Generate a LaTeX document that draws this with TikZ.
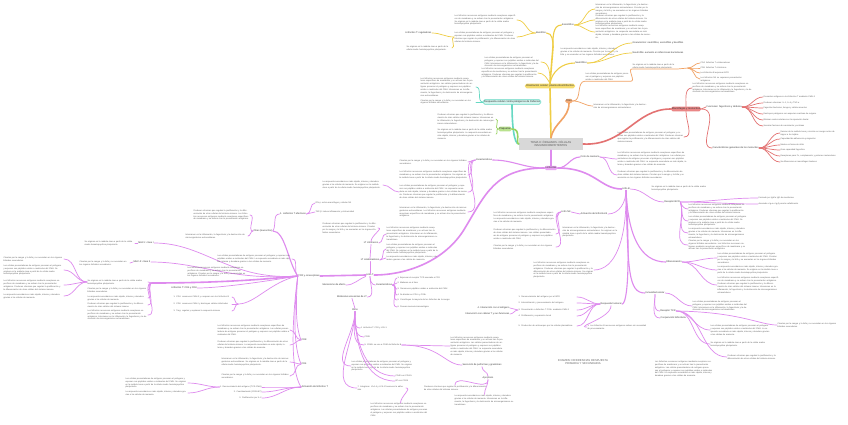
\documentclass[tikz,border=0pt]{standalone}
\usepackage{fontspec}
\setmainfont{Liberation Sans}
\definecolor{mgc}{HTML}{DE8BEE}
\definecolor{mgf}{HTML}{E9A5F3}
\definecolor{yec}{HTML}{EFCD45}
\definecolor{yef}{HTML}{F5DC6E}
\definecolor{orc}{HTML}{F1A264}
\definecolor{orf}{HTML}{F4AC78}
\definecolor{rdc}{HTML}{E37272}
\definecolor{rdf}{HTML}{EA8686}
\definecolor{tec}{HTML}{66D8C3}
\definecolor{grc}{HTML}{98D35E}
\definecolor{grf}{HTML}{B9E28E}
\definecolor{cef}{HTML}{D8D8D8}
\def\txA{Los linfocitos reconocen antígenos mediante receptores específicos de membrana y se activan tras la presentación antigénica.}
\def\txB{Las células presentadoras de antígeno procesan el patógeno y exponen sus péptidos unidos a moléculas del CMH.}
\def\txC{La respuesta secundaria es más rápida, intensa y duradera gracias a las células de memoria.}
\def\txD{Producen citocinas que regulan la proliferación y la diferenciación de otras células del sistema inmune.}
\def\txE{Se originan en la médula ósea a partir de la célula madre hematopoyética pluripotente.}
\def\txF{Intervienen en la inflamación, la fagocitosis y la destrucción de microorganismos extracelulares.}
\def\txG{Circulan por la sangre y la linfa y se acumulan en los órganos linfoides secundarios.}
\tikzset{
  txt/.style={font=\fontsize{2.1}{2.9}\selectfont, text=black!62, inner sep=0.3pt, align=left},
  lab/.style={font=\fontsize{2.4}{3}\selectfont, text=black!78, inner sep=0.4pt},
  pill/.style={rounded corners=1.8pt, inner sep=1.1pt, font=\fontsize{2.6}{3}\selectfont, text=black!80},
  thk/.style={line width=1.6pt, line cap=round},
  mid/.style={line width=1.1pt, line cap=round},
  thn/.style={line width=0.7pt, line cap=round},
}
\begin{document}
\begin{tikzpicture}[x=1pt,y=-1pt]
\fill[white] (0,0) rectangle (848,424);
\useasboundingbox (0,0) rectangle (848,424);

% ---------- centre
\node[fill=cef, minimum width=64pt, minimum height=12pt, inner sep=1pt, align=center, font=\fontsize{2.8}{3.4}\selectfont, text=black!65] (c) at (551,144) {TEMA 8: ÓRGANOS. CÉLULAS\\INMUNOCOMPETENTES};

% ---------- yellow
\node[pill, fill=yef] (ye) at (550,86) {Orientación celular: plasmocitos/linfocitos};
\coordinate (yt) at (553,47);
\node[lab] (bas) at (541,33) {Basófilos};
\node[lab] (eos) at (568,25) {Eosinófilos};
\node[lab] (neu) at (581,63) {Neutrófilos};
\node[txt, text width=62pt, anchor=east] (yb1) at (517,20) {\txA\ \txE};
\node[txt, text width=62pt, anchor=east] (yb2) at (517,37) {\txB\ \txD};
\node[lab, anchor=east] (ylt) at (432,33) {Linfocitos T: reguladores};
\node[txt, text width=45pt, anchor=east] (yb3) at (452,48) {\txE};
\node[txt, text width=55pt, anchor=west] (ye1) at (595,9) {\txF\ \txG};
\node[txt, text width=55pt, anchor=west] (ye2) at (595,20) {\txD\ \txE};
\node[txt, text width=55pt, anchor=west] (ye3) at (595,32) {\txA\ \txC};
\node[lab, anchor=west] (gr1) at (632,43) {Granulocitos: neutrófilos, eosinófilos y basófilos};
\node[lab, anchor=west] (gr2) at (632,53) {Neutrofilia: aumento en infecciones bacterianas};
\node[txt, text width=58pt, anchor=west] (ynt) at (560,52) {\txC\ \txG};
\node[txt, text width=56pt, anchor=east] (yl1) at (541,62) {\txB\ \txF};
\node[txt, text width=56pt, anchor=east] (yl2) at (538,73) {\txA\ \txD};
\draw[yec, thk] (c.north) -- (ye.south);
\draw[yec, thk] (ye.north) -- (yt);
\draw[yec, mid] (yt) to[out=90,in=0] (bas.east);
\draw[yec, mid] (yt) to[out=90,in=180] (eos.west);
\draw[yec, mid] (ye.north) to[out=80,in=180] (neu.west);
\draw[yec, thn] (bas.west) to[out=180,in=0] (yb1.east);
\draw[yec, thn] (bas.west) to[out=180,in=0] (yb2.east);
\draw[yec, thn] (yb2.west) to[out=180,in=0] (ylt.east);
\draw[yec, thn] (yb2.west) to[out=180,in=0] (yb3.east);
\foreach \n in {ye1,ye2,ye3} \draw[yec, thn] (eos.east) to[out=0,in=180] (\n.west);
\foreach \n in {gr1,gr2} \draw[yec, thn] (neu.east) to[out=0,in=180] (\n.west);
\draw[yec, thn] (ye.north) to[out=90,in=0] (yl1.east);
\draw[yec, thn] (ye.north) to[out=120,in=0] (yl2.east);

% ---------- teal
\node[pill, fill=tec!30, draw=tec, line width=0.5pt] (te) at (512,102) {Respuesta celular contra patógenos de Defensa};
\node[txt, text width=55pt, anchor=east] (tt1) at (476,87) {\txA\ \txB\ \txF};
\node[txt, text width=55pt, anchor=east] (tt2) at (476,102) {\txG};
\draw[tec, thk] (c.west) .. controls (514,144) and (512,125) .. (te.south);
\draw[tec, thn] (te.west) to[out=180,in=0] (tt1.east);
\draw[tec, thn] (te.west) to[out=180,in=0] (tt2.east);

% ---------- green
\node[pill, fill=grf] (gn) at (505,129) {Plaquetas};
\node[txt, text width=58pt, anchor=east] (gt1) at (496,119) {\txD\ \txF};
\node[txt, text width=58pt, anchor=east] (gt2) at (496,134) {\txE\ \txC};
\draw[grc, thk] (c.west) .. controls (515,144) and (522,129) .. (gn.east);
\draw[grc, thn] (gn.west) to[out=180,in=0] (gt1.east);
\draw[grc, thn] (gn.west) to[out=180,in=0] (gt2.east);

% ---------- orange
\node[pill, fill=orf] (or) at (569,101) {Timo};
\node[txt, text width=45pt, anchor=west] (o1) at (585,77) {\txB};
\node[txt, text width=45pt, anchor=west] (o2) at (632,66) {\txE};
\coordinate (ob) at (688,68);
\node[txt, anchor=west] (oi1) at (700,63) {CD4: linfocitos T colaboradores};
\node[txt, anchor=west] (oi2) at (700,68) {CD8: linfocitos T citotóxicos};
\node[txt, anchor=west] (oi3) at (700,73) {Los linfocitos B expresan BCR};
\node[txt, text width=50pt, anchor=west] (oi4) at (700,79) {Los linfocitos NK no requieren presentación antigénica.};
\node[txt, text width=55pt, anchor=west] (o3) at (593,106) {\txF};
\draw[orc, thk] (c.north) to[out=80,in=-90] (or.south);
\draw[orc, thn] (or.east) to[out=0,in=180] (o1.south west) -- (o1.south east) to[out=0,in=180] (o2.south west) -- (o2.south east) to[out=0,in=180] (ob);
\foreach \n in {oi1,oi2,oi3,oi4} \draw[orc, thn] (ob) to[out=0,in=180] (\n.west);
\draw[orc, thn] (or.east) to[out=0,in=180] (o3.west);

% ---------- red
\node[pill, fill=rdf] (re) at (686,109) {Macrófagos y monocitos};
\node[txt, text width=60pt, anchor=west] (r1) at (692,88) {\txA\ \txF};
\node[txt, text width=66pt, anchor=east] (r2) at (684,137) {\txB\ \txD};
\node[lab, anchor=west] (rf) at (706,107) {Funciones: fagocitosis y defensa};
\node[txt, anchor=west] (rf1) at (763,97) {Presentan antígenos a los linfocitos T mediante CMH-II};
\node[txt, anchor=west] (rf2) at (763,103) {Producen citocinas: IL-1, IL-6 y TNF-α};
\node[txt, anchor=west] (rf3) at (763,108) {Fagocitan bacterias, hongos y células muertas};
\node[txt, anchor=west] (rf4) at (763,114) {Destruyen patógenos con especies reactivas de oxígeno};
\node[txt, anchor=west] (rf5) at (763,120) {Eliminan restos celulares en la reparación tisular};
\node[txt, anchor=west] (rf6) at (763,126) {Secretan factores de crecimiento y enzimas};
\node[lab, anchor=west] (rc) at (712,148) {Características generales de los monocitos};
\node[txt, text width=58pt, anchor=west] (rc1) at (780,133) {Derivan de la médula ósea y circulan en sangre antes de migrar a los tejidos};
\node[txt, anchor=west] (rc2) at (780,139) {Capacidad de adherencia y migración};
\node[txt, anchor=west] (rc3) at (780,145) {Núcleo en forma de riñón};
\node[txt, anchor=west] (rc4) at (780,150) {Gran capacidad fagocítica};
\node[txt, text width=58pt, anchor=west] (rc5) at (780,156) {Receptores para Fc, complemento y patrones moleculares};
\node[txt, anchor=west] (rc6) at (780,162) {Se diferencian en macrófagos tisulares};
\draw[rdc, thk] (c.east) .. controls (625,146) and (635,109) .. (re.west);
\draw[rdc, thn] (re.north) to[out=90,in=180] (r1.west);
\draw[rdc, thn] (re.south) to[out=-90,in=0] (r2.east);
\draw[rdc, thn] (re.east) -- (rf.west);
\foreach \n in {rf1,rf2,rf3,rf4,rf5,rf6} \draw[rdc, thn] (rf.east) to[out=0,in=180] (\n.west);
\draw[rdc, thn] (re.east) .. controls (722,109) and (696,148) .. (rc.west);
\foreach \n in {rc1,rc2,rc3,rc4,rc5,rc6} \draw[rdc, thn] (rc.east) to[out=0,in=180] (\n.west);

% ---------- magenta, right part
\node[pill, fill=mgf] (mg) at (551,168) {Linfocitos};
\draw[mgc, thk] (c.south) -- (mg.north);
\node[lab] (cm) at (590,157) {Ciclo de memoria};
\node[txt, text width=70pt, anchor=west] (cm1) at (617,159) {\txA\ \txB\ \txC};
\node[txt, text width=70pt, anchor=west] (cm2) at (617,175) {\txD\ \txG};
\draw[mgc, mid] (mg.east) to[out=0,in=180] (cm.west);
\draw[mgc, thn] (cm.east) to[out=0,in=180] (cm1.west);
\draw[mgc, thn] (cm.east) to[out=0,in=180] (cm2.west);
\node[lab] (lb) at (626,189) {Linfo B};
\draw[mgc, thk] (mg.east) .. controls (595,168) and (600,189) .. (lb.west);
\node[txt, text width=62pt, anchor=west] (lb1) at (651,188) {\txE};
\node[lab] (rb) at (672,202) {Receptor BCR};
\draw[mgc, thn] (lb.east) to[out=0,in=180] (rb.west);
\node[txt, anchor=west] (lbi1) at (758,198) {Formado por IgM e IgD de membrana};
\node[txt, anchor=west] (lbi2) at (758,204) {Asociado a Ig-α e Ig-β para la señalización};
\draw[mgc, thn] (rb.east) to[out=0,in=180] (lbi1.west);
\draw[mgc, thn] (rb.east) to[out=0,in=180] (lbi2.west);
\node[txt, text width=58pt, anchor=west] (rbi1) at (688,209) {\txA\ \txD};
\node[txt, text width=58pt, anchor=west] (rbi2) at (688,221) {\txB\ \txE};
\node[txt, text width=58pt, anchor=west] (rbi3) at (688,233) {\txC\ \txF};
\node[txt, text width=58pt, anchor=west] (rbi4) at (688,245) {\txG\ \txA};
\foreach \n in {rbi1,rbi2,rbi3,rbi4} \draw[mgc, thn] (rb.east) to[out=-70,in=180] (\n.west);
\node[lab] (alb) at (594,214) {Activación de linfocitos B};
\draw[mgc, thn] (lb.south) to[out=-90,in=0] (alb.east);
\node[lab] (nk) at (566,212) {Linfo NK};
\draw[mgc, thn] (alb.west) -- (nk.east);
\node[txt, text width=62pt, anchor=east] (nk1) at (556,217) {\txA\ \txC};
\node[txt, text width=62pt, anchor=east] (nk2) at (556,234) {\txD\ \txB};
\node[txt, text width=62pt, anchor=east] (nk3) at (556,247) {\txG};
\foreach \n in {nk1,nk2,nk3} \draw[mgc, thn] (nk.west) to[out=180,in=0] (\n.east);
\node[txt, text width=56pt, anchor=west] (nkr) at (562,232) {\txF\ \txE};
\node[lab] (dif) at (674,262) {Diferenciación};
\draw[mgc, mid] (lb.south) .. controls (628,235) and (640,262) .. (dif.west);
\node[txt, text width=62pt, anchor=west] (dif1) at (717,258) {\txB\ \txG};
\node[txt, text width=62pt, anchor=west] (dif2) at (717,270) {\txC\ \txE};
\node[txt, text width=62pt, anchor=west] (dif3) at (717,285) {\txA\ \txD\ \txF};
\foreach \n in {dif1,dif2,dif3} \draw[mgc, thn] (dif.east) to[out=0,in=180] (\n.west);
\node[txt, text width=60pt, anchor=east] (lbt) at (594,270) {\txA\ \txD\ \txE};
\draw[mgc, thn] (lb.south) .. controls (627,240) and (615,270) .. (lbt.east);
\node[lab] (inm) at (655,293) {Inmunidad celular};
\draw[mgc, mid] (lb.south) .. controls (628,270) and (628,293) .. (inm.west);
\node[txt, text width=56pt, anchor=west] (im1) at (692,306) {\txB\ \txF};
\draw[mgc, thn] (inm.east) to[out=0,in=180] (im1.west);
\node[lab] (rec) at (668,311) {Receptor TCR};
\node[lab, anchor=west] (cul) at (660,318) {Cooperación linfocitaria};
\draw[mgc, thn] (inm.south) to[out=-90,in=180] (rec.west);
\draw[mgc, thn] (inm.south) to[out=-90,in=180] (cul.west);
\node[txt, text width=62pt, anchor=west] (ci1) at (710,330) {\txB\ \txC};
\node[txt, text width=60pt, anchor=west] (cf) at (777,325) {\txG};
\node[txt, text width=66pt, anchor=west] (ci2) at (710,344) {\txE};
\node[txt, text width=50pt, anchor=west] (ci3) at (727,357) {\txD};
\foreach \n in {ci1,ci2,ci3} \draw[mgc, thn] (rec.east) to[out=0,in=180] (\n.west);
\draw[mgc, thn] (rec.east) .. controls (740,312) and (760,325) .. (cf.west);
\node[txt, text width=58pt] (nt) at (684,369) {\txA\ \txB\ \txC};
\node[lab] (rh) at (611,304) {Respuesta humoral};
\draw[mgc, mid] (lb.south) .. controls (630,260) and (628,304) .. (rh.east);
\node[txt, text width=58pt, anchor=east] (rhi1) at (577,297) {1. Reconocimiento del antígeno por el BCR};
\node[txt, text width=58pt, anchor=east] (rhi2) at (577,303) {2. Internalización y procesamiento del antígeno};
\node[txt, text width=58pt, anchor=east] (rhi3) at (577,310) {3. Presentación a linfocitos T CD4+ mediante CMH-II};
\node[txt, text width=58pt, anchor=east] (rhi4) at (577,316) {4. Proliferación y expansión clonal};
\node[txt, text width=58pt, anchor=east] (rhi5) at (577,326) {5. Producción de anticuerpos por las células plasmáticas};
\foreach \n in {rhi1,rhi2,rhi3,rhi4,rhi5} \draw[mgc, thn] (rh.west) to[out=180,in=0] (\n.east);
\node[lab, anchor=east] (ia1) at (510,308) {4. Interacción con el antígeno};
\node[lab, anchor=east] (ia2) at (510,314) {Interacción con células T y sus funciones};
\draw[mgc, thn] (ia1.east) to[out=0,in=180] (rhi3.west);
\draw[mgc, thn] (ia2.east) to[out=0,in=180] (rhi3.west);
\node[txt, text width=60pt, anchor=west] (rh2) at (587,327) {1. Los linfocitos B reconocen antígenos nativos sin necesidad de procesamiento.};
\draw[mgc, thn] (rh.south) to[out=-90,in=180] (rh2.west);
\node[font=\fontsize{2.8}{3.4}\selectfont, text=black!60, align=center] (ex) at (583,362) {EXAMEN: DIFERENCIAS RESPUESTA\\PRIMARIA Y SECUNDARIA};

% ---------- magenta, left part
\node[lab] (ca) at (484,160) {Características};
\draw[mgc, mid] (mg.west) to[out=180,in=0] (ca.east);
\node[txt, text width=68pt, anchor=east] (cai1) at (468,162) {\txG};
\node[txt, text width=68pt, anchor=east] (cai2) at (468,175) {\txA\ \txE};
\node[txt, text width=68pt, anchor=east] (cai3) at (468,192) {\txB\ \txC\ \txD};
\node[txt, text width=68pt, anchor=east] (cai4) at (468,212) {\txF\ \txA};
\foreach \n in {cai1,cai2,cai3,cai4} \draw[mgc, thn] (ca.west) to[out=180,in=0] (\n.east);
\node[txt, text width=60pt, anchor=east] (fg) at (383,185) {\txC\ \txE};
\draw[mgc, thn] (cai3.west) to[out=180,in=0] (fg.east);

\node[lab] (lt) at (370,275) {Linfo T};
\draw[mgc, thk] (mg.west) .. controls (495,168) and (485,195) .. (465,228) .. controls (445,262) and (405,275) .. (lt.east);
\node[lab] (ltc) at (371,243) {LT citotóxicos};
\node[lab] (ltk) at (370,260) {LT colaboradores};
\draw[mgc, thn] (lt.north) -- (ltk.south);
\draw[mgc, thn] (ltk.north) -- (ltc.south);
\node[txt, text width=55pt, anchor=east] (lp) at (378,228) {\txD\ \txG};
\draw[mgc, thn] (ltc.north) to[out=90,in=0] (lp.east);
\node[txt, text width=52pt, anchor=west] (ltc1) at (386,234) {\txA\ \txF};
\draw[mgc, thn] (ltc.east) to[out=0,in=180] (ltc1.west);
\node[txt, text width=52pt, anchor=west] (ltk1) at (386,249) {\txB\ \txE};
\node[txt, text width=52pt, anchor=west] (ltk2) at (386,258) {\txC};
\draw[mgc, thn] (ltk.east) to[out=0,in=180] (ltk1.west);
\draw[mgc, thn] (ltk.east) to[out=0,in=180] (ltk2.west);
\node[lab] (ltch) at (384,285) {Características};
\draw[mgc, thn] (lt.south) to[out=-90,in=180] (ltch.west);
\node[txt, anchor=west] (lci1) at (397,278) {1. Expresan el receptor TCR asociado a CD3};
\node[txt, anchor=west] (lci2) at (397,283) {2. Maduran en el timo};
\node[txt, text width=56pt, anchor=west] (lci3) at (397,289) {3. Reconocen péptidos unidos a moléculas del CMH};
\node[txt, anchor=west] (lci4) at (397,295) {4. Se dividen en CD4+ y CD8+};
\node[txt, text width=56pt, anchor=west] (lci5) at (397,300) {5. Constituyen la mayoría de los linfocitos de la sangre};
\node[txt, anchor=west] (lci6) at (397,307) {6. Poseen memoria inmunológica};
\foreach \n in {lci1,lci2,lci3,lci4,lci5,lci6} \draw[mgc, thn] (ltch.east) to[out=0,in=180] (\n.west);
\node[lab] (tcr) at (309,276) {TCR y coreceptores};
\draw[mgc, thk] (lt.west) -- (tcr.east);
\node[lab] (me) at (334,285) {Mecanismo de efecto};
\draw[mgc, thn] (lt.south west) to[out=200,in=0] (me.east);
\node[lab] (ma) at (352,297) {Moléculas accesorias de LT};
\draw[mgc, thn] (lt.south) to[out=-90,in=0] (ma.east);
\node[lab] (ot) at (355,310) {Otros};
\draw[mgc, thn] (ma.south) -- (ot.north);
\node[txt, anchor=west] (oti1) at (360,328) {4. Linfocitos T: CD2 y LFA-1};
\node[txt, anchor=west] (oti2) at (364,337) {CD28};
\node[txt, anchor=west] (oti3) at (364,345) {5. CD40L se une a CD40 del linfocito B};
\node[txt, text width=62pt, anchor=west] (oti4) at (351,366) {\txB\ \txE};
\node[txt, anchor=west] (osb1) at (395,376) {CD40 con CD40L};
\node[txt, anchor=west] (osb2) at (395,381) {B7 con CD28};
\node[txt, text width=48pt, anchor=west] (oti6) at (357,388) {7. Integrinas: VLA-4 y LFA-1 favorecen la adhesión};
\foreach \n in {oti1,oti2,oti3,oti4,osb1,osb2,oti6} \draw[mgc, thn] (ot.south) to[out=-90,in=180] (\n.west);
\node[txt, text width=60pt, anchor=west] (ob1) at (370,410) {\txA\ \txB};
\draw[mgc, thn] (oti6.east) to[out=0,in=90] (ob1.north);
\node[txt, text width=54pt, anchor=west] (bt) at (450,346) {\txA\ \txB\ \txC};
\draw[mgc, thn] (oti3.east) -- (bt.west);
\node[lab] (fag) at (482,365) {Secreción de perforinas y granzimas};
\draw[mgc, thn] (oti3.east) .. controls (440,345) and (445,365) .. (fag.west);
\node[lab] (ap) at (488,378) {Apoptosis};
\draw[mgc, thn] (fag.south) to[out=-90,in=90] (ap.north);
\node[txt, text width=62pt] (ap1) at (455,388) {\txD};
\node[txt, text width=60pt, anchor=west] (ap2) at (454,400) {\txC\ \txF};
\draw[mgc, thn] (ap.south) to[out=-90,in=90] (ap1.north);
\draw[mgc, thn] (ap.south) to[out=-90,in=90] (ap2.north);

\coordinate (fnh) at (152,283);
\draw[mgc, thk] (tcr.west) .. controls (250,281) and (200,283) .. (fnh);
\node[txt, text width=60pt, anchor=east] (fi1) at (148,282) {\txE};
\node[txt, text width=60pt, anchor=east] (fi2) at (148,290) {\txG};
\node[txt, text width=60pt, anchor=east] (fi3) at (148,298) {\txC};
\node[txt, text width=60pt, anchor=east] (fi4) at (148,305) {\txD};
\node[txt, text width=60pt, anchor=east] (fi5) at (148,315) {\txA\ \txF};
\foreach \n in {fi1,fi2,fi3,fi4,fi5} \draw[mgc, thn] (fnh) to[out=180,in=0] (\n.east);
\node[txt, text width=60pt, anchor=east] (fl1) at (64,259) {\txG};
\node[txt, text width=60pt, anchor=east] (fl2) at (64,270) {\txB\ \txE};
\node[txt, text width=60pt, anchor=east] (fl3) at (64,285) {\txA\ \txD};
\node[txt, text width=60pt, anchor=east] (fl4) at (64,296) {\txC};
\foreach \n in {fl1,fl2,fl3,fl4} \draw[mgc, thn] (fi1.west) to[out=180,in=0] (\n.east);
\node[lab] (m1) at (146,243) {MHC-I: clase I};
\node[txt, text width=50pt, anchor=east] (m1t) at (135,243) {\txE};
\draw[mgc, thn] (tcr.west) .. controls (230,281) and (205,243) .. (m1.east);
\draw[mgc, thn] (m1.west) -- (m1t.east);
\node[lab] (m2) at (142,262) {MHC-II: clase II};
\node[txt, text width=50pt, anchor=east] (m2t) at (130,263) {\txG};
\draw[mgc, thn] (tcr.west) .. controls (230,281) and (200,262) .. (m2.east);
\draw[mgc, thn] (m2.west) -- (m2t.east);
\node[lab] (otr) at (263,231) {Otras (leucocitos)};
\draw[mgc, mid] (tcr.west) .. controls (288,262) and (285,231) .. (otr.east);
\node[txt, text width=56pt, anchor=east] (ot1) at (250,215) {\txD\ \txA};
\node[txt, text width=62pt, anchor=east] (ot2) at (248,236) {\txF};
\draw[mgc, thn] (otr.west) to[out=180,in=0] (ot1.east);
\draw[mgc, thn] (otr.west) to[out=180,in=0] (ot2.east);
\node[lab] (flt) at (293,214) {1. Linfocitos T efectores};
\draw[mgc, thn] (otr.east) to[out=60,in=180] (flt.west);
\node[txt, anchor=west] (ifn) at (315,203) {IFN-γ: activa macrófagos y células NK};
\node[txt, anchor=west] (tnf) at (315,212) {TNF-β: induce inflamación y citotoxicidad};
\draw[mgc, thn] (flt.east) to[out=0,in=180] (ifn.west);
\draw[mgc, thn] (flt.east) to[out=0,in=180] (tnf.west);
\node[txt, text width=74pt, anchor=east] (lt8) at (292,259) {\txB\ \txC};
\draw[mgc, thn] (tcr.west) to[out=135,in=0] (lt8.east);
\node[txt, text width=60pt, anchor=west] (lti) at (187,272) {\txA\ \txG};
\node[lab] (l48) at (184,288) {Linfocitos T: CD4 y CD8};
\draw[mgc, thn] (tcr.west) .. controls (250,284) and (215,288) .. (l48.east);
\coordinate (b48) at (238,304);
\draw[mgc, thn] (tcr.west) .. controls (270,282) and (255,304) .. (b48);
\node[txt, text width=58pt, anchor=east] (i48a) at (232,297) {1. CD4: reconocen CMH-II y cooperan con los linfocitos B};
\node[txt, text width=58pt, anchor=east] (i48b) at (232,304) {2. CD8: reconocen CMH-I y destruyen células infectadas};
\node[txt, text width=58pt, anchor=east] (i48c) at (232,311) {3. Treg: regulan y suprimen la respuesta inmune};
\foreach \n in {i48a,i48b,i48c} \draw[mgc, thn] (b48) to[out=180,in=0] (\n.east);

\node[lab, anchor=west] (cd8) at (301,340) {CD8};
\draw[mgc, thn] (tcr.west) .. controls (296,300) and (295,325) .. (cd8.west);
\node[txt, text width=72pt, anchor=east] (c8t1) at (290,330) {\txA\ \txB};
\node[txt, text width=72pt, anchor=east] (c8t2) at (290,345) {\txD\ \txC};
\draw[mgc, thn] (cd8.west) to[out=180,in=0] (c8t1.east);
\draw[mgc, thn] (cd8.west) to[out=180,in=0] (c8t2.east);
\node[lab, anchor=west] (cd4) at (301,364) {CD4};
\draw[mgc, thn] (tcr.west) .. controls (294,310) and (293,345) .. (cd4.west);
\node[txt, text width=68pt, anchor=east] (c4t1) at (290,362) {\txF\ \txE};
\node[txt, text width=68pt, anchor=east] (c4t2) at (290,376) {\txG};
\draw[mgc, thn] (cd4.west) to[out=180,in=0] (c4t1.east);
\draw[mgc, thn] (cd4.west) to[out=180,in=0] (c4t2.east);
\node[lab, anchor=west] (act) at (301,387) {Activación de linfocitos T};
\draw[mgc, thn] (tcr.west) .. controls (292,320) and (290,370) .. (act.west);
\node[txt, anchor=east] (ai1) at (262,387) {1. Reconocimiento del antígeno (TCR-CMH)};
\node[txt, anchor=east] (ai2) at (262,392) {2. Coestimulación (CD28-B7)};
\node[txt, anchor=east] (ai3) at (262,398) {3. Proliferación por IL-2};
\foreach \n in {ai1,ai2,ai3} \draw[mgc, thn] (act.west) to[out=180,in=0] (\n.east);
\node[txt, text width=62pt, anchor=east] (aix1) at (188,383) {\txB\ \txE};
\node[txt, text width=62pt, anchor=east] (aix2) at (188,393) {\txC};
\draw[mgc, thn] (ai1.west) to[out=180,in=0] (aix1.east);
\draw[mgc, thn] (ai1.west) to[out=180,in=0] (aix2.east);
\end{tikzpicture}
\end{document}
